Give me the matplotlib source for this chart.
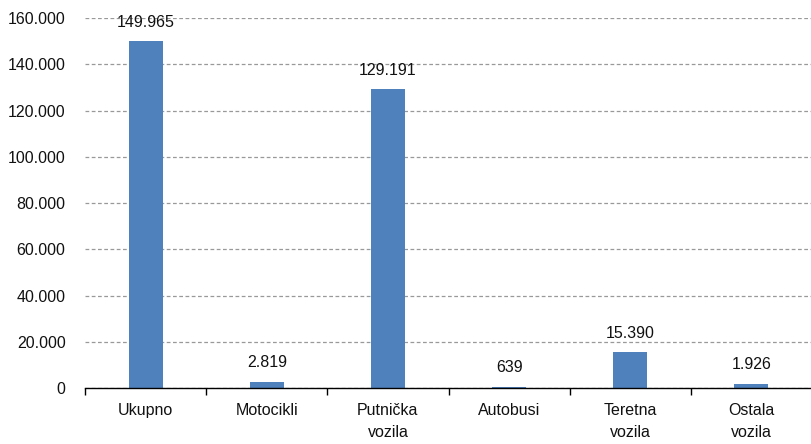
import matplotlib
matplotlib.use("Agg")
import matplotlib.pyplot as plt
from matplotlib.ticker import FuncFormatter, FixedLocator

plt.rcParams['font.family'] = ['Liberation Sans', 'DejaVu Sans']

categories = ["Ukupno", "Motocikli", "Putnička\nvozila", "Autobusi", "Teretna\nvozila", "Ostala\nvozila"]
values = [149965, 2819, 129191, 639, 15390, 1926]
yticks = [0, 20000, 40000, 60000, 80000, 100000, 120000, 140000, 160000]


def fmt(v):
    return "{:,}".format(int(v)).replace(",", ".")


fig = plt.figure(figsize=(8.12, 4.44), dpi=100)
ax = fig.add_axes([0.1047, 0.126, 0.8953, 0.8335])

x = list(range(len(categories)))
bars = ax.bar(x, values, width=0.28, color="#4F81BD", zorder=3)

for xi, v in zip(x, values):
    ax.annotate(fmt(v), (xi, v), xytext=(0, 8), textcoords="offset points",
                ha="center", va="bottom", fontsize=11.5, color="#111111", zorder=4)

ax.set_xlim(-0.5, len(categories) - 0.5)
ax.set_ylim(0, 160000)
ax.set_yticks(yticks)
ax.yaxis.set_major_formatter(FuncFormatter(lambda v, p: fmt(v)))
ax.grid(axis="y", linestyle=(0, (3, 2)), color="#999999", linewidth=0.9, zorder=0)

ax.set_xticks(x)
ax.set_xticklabels(categories, linespacing=1.6)
ax.xaxis.set_minor_locator(FixedLocator([i - 0.5 for i in range(len(categories) + 1)]))
ax.tick_params(axis="x", which="major", length=0, pad=10.5, labelsize=11.5, colors="#111111")
ax.tick_params(axis="x", which="minor", length=5, width=1, color="black", direction="out")
ax.tick_params(axis="y", length=0, pad=14, labelsize=11.5, colors="#111111")

for s in ["left", "right", "top"]:
    ax.spines[s].set_visible(False)
ax.spines["bottom"].set_color("black")
ax.spines["bottom"].set_linewidth(1)
ax.spines["bottom"].set_zorder(5)

fig.savefig("out.png", dpi=100)
